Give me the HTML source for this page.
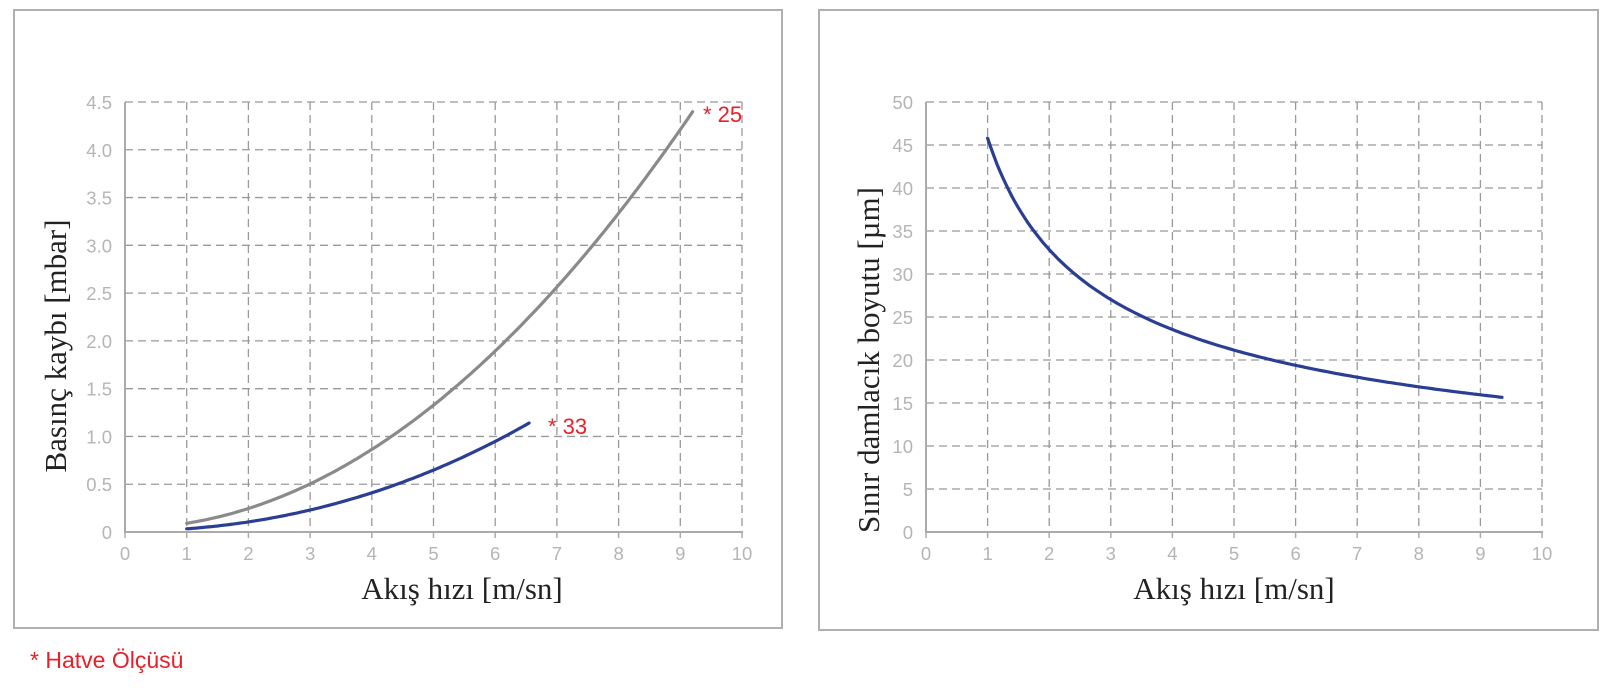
<!DOCTYPE html>
<html><head><meta charset="utf-8"><style>
html,body{margin:0;padding:0;background:#fff;width:1600px;height:695px;overflow:hidden}
svg{display:block}
.t{font-family:"Liberation Sans",sans-serif;font-size:18.5px;fill:#b5b5b5}
.s{font-family:"Liberation Serif",serif;fill:#222}
</style></head><body>
<svg id="c" width="1600" height="695" xmlns="http://www.w3.org/2000/svg">
<rect x="14" y="10" width="768" height="618" fill="none" stroke="#b0b0b0" stroke-width="2"/>
<rect x="819" y="10" width="779" height="620" fill="none" stroke="#b0b0b0" stroke-width="2"/>
<g id="g"></g>
<text class="s" font-size="31" x="462" y="599" text-anchor="middle">Akış hızı [m/sn]</text>
<text class="s" font-size="31" x="1234" y="599" text-anchor="middle">Akış hızı [m/sn]</text>
<text class="s" font-size="31" transform="translate(66,346) rotate(-90)" text-anchor="middle">Basınç kaybı [mbar]</text>
<text class="s" font-size="31" transform="translate(879,360) rotate(-90)" text-anchor="middle">Sınır damlacık boyutu [µm]</text>
<text x="703" y="122" font-family="Liberation Sans,sans-serif" font-size="22" fill="#e8202a">* 25</text>
<text x="548" y="434" font-family="Liberation Sans,sans-serif" font-size="22" fill="#e8202a">* 33</text>
<text x="30" y="668" font-family="Liberation Sans,sans-serif" font-size="23" fill="#e8202a">* Hatve Ölçüsü</text>
</svg>
<script>
var g=document.getElementById('g'),NS='http://www.w3.org/2000/svg';
function el(t,a,txt){var e=document.createElementNS(NS,t);for(var k in a)e.setAttribute(k,a[k]);if(txt!==undefined)e.textContent=txt;g.appendChild(e);return e;}
function chart(x0,x10,y0,yt,n,labels,ymax){
 var dx=(x10-x0)/10,dy=(y0-yt)/n;
 for(var i=1;i<=10;i++){var x=x0+i*dx;el('line',{x1:x,y1:yt,x2:x,y2:y0,stroke:'#999','stroke-width':1.3,'stroke-dasharray':'8,5'});}
 for(var j=1;j<=n;j++){var y=y0-j*dy;el('line',{x1:x0,y1:y,x2:x10,y2:y,stroke:'#999','stroke-width':1.3,'stroke-dasharray':'8,5'});}
 el('line',{x1:x0,y1:yt,x2:x0,y2:y0+1,stroke:'#aaa','stroke-width':2});
 el('line',{x1:x0-1,y1:y0,x2:x10+1,y2:y0,stroke:'#aaa','stroke-width':2});
 for(var i=0;i<=10;i++){var x=x0+i*dx;el('line',{x1:x,y1:y0,x2:x,y2:y0+6,stroke:'#aaa','stroke-width':1.5});el('text',{'class':'t',x:x,y:y0+28,'text-anchor':'middle'},''+i);}
 for(var j=0;j<=n;j++){el('text',{'class':'t',x:x0-13,y:y0-j*dy+7,'text-anchor':'end'},labels[j]);}
 return function(v,val){return [x0+v*dx,y0-val/ymax*(y0-yt)];};
}
var L=chart(125,742,532,102,9,['0','0.5','1.0','1.5','2.0','2.5','3.0','3.5','4.0','4.5'],4.5);
var R=chart(926,1542,532,102,10,['0','5','10','15','20','25','30','35','40','45','50'],50);
function path(f,a,b,fn,col){var d='';for(var v=a;v<=b+1e-9;v+=0.05){var p=f(v,fn(v));d+=(d?'L':'M')+p[0].toFixed(1)+','+p[1].toFixed(1);}el('path',{d:d,fill:'none',stroke:col,'stroke-width':3.2,'stroke-linecap':'round','stroke-linejoin':'round'});}
path(L,1,9.2,function(v){return 0.0515*v*v+0.04;},'#8a8a8a');
path(L,1,6.55,function(v){return 0.0229*v*v+0.000526*v*v*v+0.01;},'#2a3f94');
path(R,1,9.35,function(v){return 45.8*Math.pow(v,-0.48);},'#2a3f94');
</script>
</body></html>
